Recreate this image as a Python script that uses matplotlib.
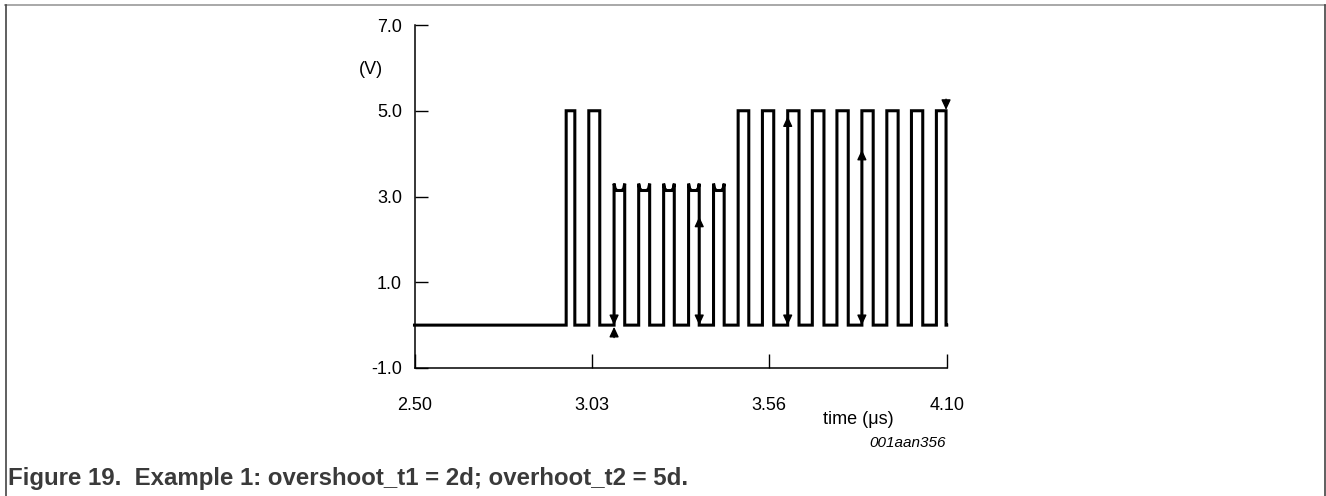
import matplotlib
matplotlib.use("Agg")
import matplotlib.pyplot as plt
from matplotlib.lines import Line2D

plt.rcParams['font.family'] = ['Liberation Sans', 'DejaVu Sans']

# ---- data ----
rise_edges = [2.956, 3.024, 3.100, 3.174, 3.249, 3.324, 3.399, 3.473,
              3.546, 3.622, 3.696, 3.770, 3.845, 3.920, 3.994, 4.069]
fall_edges = [2.982, 3.057, 3.132, 3.207, 3.281, 3.356, 3.431, 3.505,
              3.580, 3.656, 3.731, 3.804, 3.879, 3.954, 4.028, 4.098]
high_levels = [5.0, 5.0, 3.3, 3.3, 3.3, 3.3, 3.3, 5.0,
               5.0, 5.0, 5.0, 5.0, 5.0, 5.0, 5.0, 5.0]
notch_level = 3.14
t_start, t_end = 2.50, 4.10

# arrows: (x, y_low, y_high, heads)
arrows = [(3.100, 0.0, 3.3, 'down'),
          (3.356, 0.0, 2.53, 'both'),
          (3.622, 0.0, 4.87, 'both'),
          (3.845, 0.0, 4.09, 'both')]
# isolated triangles: (x, tip_y, direction)
triangles = [(3.100, -0.04, 'up'), (4.098, 5.02, 'down')]

x_ticks = [2.50, 2.5 + 1.6 / 3, 2.5 + 3.2 / 3, 4.10]
x_tick_labels = ['2.50', '3.03', '3.56', '4.10']
y_ticks = [-1.0, 1.0, 3.0, 5.0, 7.0]
y_tick_labels = ['-1.0', '1.0', '3.0', '5.0', '7.0']

# ---- figure ----
W, H = 1326, 496
fig = plt.figure(figsize=(W / 100, H / 100), dpi=100)
ax = fig.add_axes([414.5 / W, 128 / H, 532.2 / W, 343 / H])

xs = [t_start]
ys = [0.0]
for r, f, lv in zip(rise_edges, fall_edges, high_levels):
    xs += [r, r]
    ys += [0.0, lv]
    if lv < 4.0:
        d1, d2 = 0.003, 0.008
        xs += [r + d1, r + d2, f - d2, f - d1]
        ys += [notch_level + 0.05, notch_level, notch_level, notch_level + 0.05]
    xs += [f, f]
    ys += [lv, 0.0]
xs.append(t_end)
ys.append(0.0)
ax.plot(xs, ys, color='black', lw=2.2, solid_joinstyle='miter', clip_on=False)

head = 'head_length=0.6,head_width=0.28'
for x, y0, y1, kind in arrows:
    style = ('<|-|>,' if kind == 'both' else '-|>,') + head
    ax.annotate('', xy=(x, y0), xytext=(x, y1),
                arrowprops=dict(arrowstyle=style, color='black', lw=1.0,
                                shrinkA=0, shrinkB=0))
for x, y, d in triangles:
    off = -0.25 if d == 'up' else 0.25
    ax.annotate('', xy=(x, y), xytext=(x, y + off),
                arrowprops=dict(arrowstyle='-|>,' + head, color='black', lw=1.0,
                                shrinkA=0, shrinkB=0))

ax.set_xlim(t_start, t_end)
ax.set_ylim(-1.0, 7.0)
for s in ['top', 'right']:
    ax.spines[s].set_visible(False)
for s in ['left', 'bottom']:
    ax.spines[s].set_linewidth(1.1)
ax.set_xticks(x_ticks)
ax.set_xticklabels(x_tick_labels)
ax.set_yticks(y_ticks)
ax.set_yticklabels(y_tick_labels)
ax.tick_params(axis='y', direction='in', length=9.5, width=1.0, pad=9, labelsize=13)
ax.tick_params(axis='x', direction='in', length=10, width=1.0, pad=21, labelsize=13)

fig.text(371 / W, 1 - 70 / H, '(V)', fontsize=13, ha='center', va='center')
fig.text(858 / W, 1 - 419 / H, 'time (\u03bcs)', fontsize=13, ha='center', va='center')
fig.text(946 / W, 1 - 443 / H, '001aan356', fontsize=11, style='italic',
         ha='right', va='center')
fig.text(8 / W, 1 - 478 / H,
         'Figure 19.  Example 1: overshoot_t1 = 2d; overhoot_t2 = 5d.',
         fontsize=17.3, fontweight='bold', color='#3a3a3a', ha='left', va='center')

# frame
fig.add_artist(Line2D([5 / W, 1325 / W], [1 - 5 / H, 1 - 5 / H],
                      color='#9a9a9a', lw=1.2, transform=fig.transFigure))
fig.add_artist(Line2D([5.5 / W, 5.5 / W], [1 - 5 / H, 0], color='#444444',
                      lw=1.2, transform=fig.transFigure))
fig.add_artist(Line2D([1324.5 / W, 1324.5 / W], [1 - 5 / H, 0], color='#444444',
                      lw=1.2, transform=fig.transFigure))

fig.savefig('out.png', dpi=100)
